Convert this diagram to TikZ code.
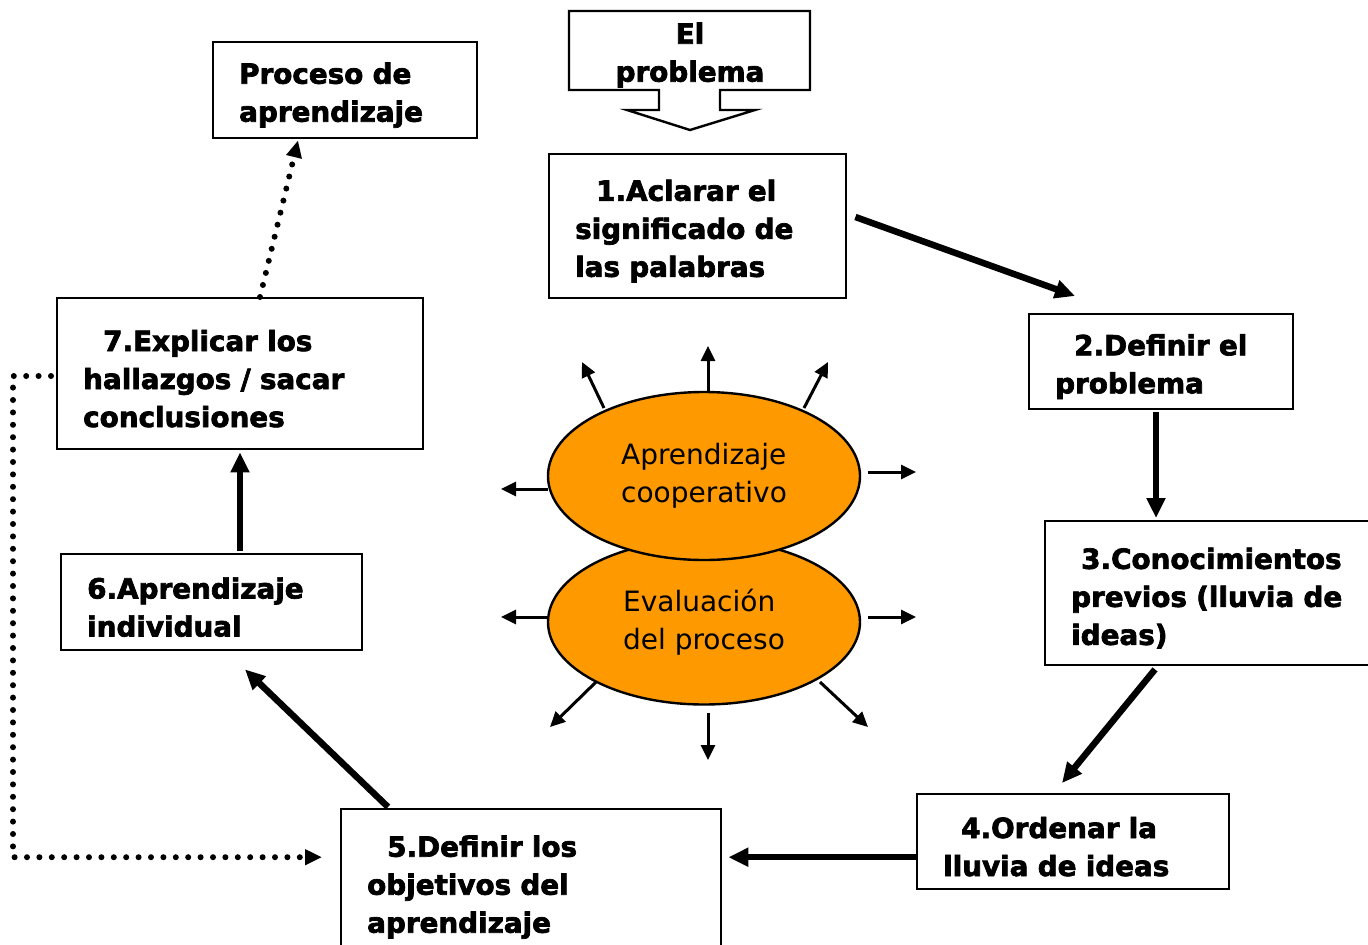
\documentclass[tikz,border=0pt]{standalone}
\usepackage{fontspec}
\setmainfont{DejaVu Sans}
\newfontfamily\heavyfont{DejaVu Sans Bold}[FakeBold=2.5]
\usetikzlibrary{arrows.meta,shapes.geometric,calc}
\definecolor{orng}{RGB}{254,153,0}
\tikzset{
  box/.style={draw=black, line width=2.4pt, rectangle, anchor=north west, align=left,
    inner xsep=26pt, inner ysep=0pt, font=\fontsize{27.8}{38}\selectfont\heavyfont,
    execute at begin node={\rule{0pt}{31pt}}},
  oval/.style={draw=black, line width=2.4pt, ellipse, fill=orng, align=left, inner sep=0pt,
    minimum width=312pt, font=\fontsize{28}{38}\selectfont},
  thickarrow/.style={line width=6.5pt, -{Triangle[length=20pt,width=18pt]}},
  thinarrow/.style={line width=3pt, -{Triangle[length=15pt,width=14pt]}},
  dotline/.style={line width=6pt, line cap=round, dash pattern=on 0pt off 12.4pt},
  dotarrow/.style={dotline, -{Triangle[length=17pt,width=15pt]}},
}
\begin{document}
\begin{tikzpicture}[x=1pt,y=-1pt]
\useasboundingbox (0,0) rectangle (1368,945);
\fill[white] (0,0) rectangle (1368,945);

% callout "El problema"
\draw[line width=2.4pt, line join=miter] (569,11) -- (810,11) -- (810,90) -- (720,90) -- (720,110) -- (755,110)
  -- (690,130) -- (627,110) -- (659,110) -- (659,90) -- (569,90) -- cycle;
\node[align=center, inner sep=0pt, font=\fontsize{27.8}{38}\selectfont\heavyfont] (prob) at (690,55) {El\\problema};

% boxes
\node[box, minimum width=264pt, minimum height=96pt, text width=212pt] (bp) at (212,41)
  {Proceso de\\aprendizaje};
\node[box, minimum width=297pt, minimum height=144pt, text width=245pt] (b1) at (548,153)
  {\hspace*{21pt}1.Aclarar el\\significado de\\las palabras};
\node[box, minimum width=264pt, minimum height=95pt, text width=212pt] (b2) at (1028,313)
  {\hspace*{19pt}2.Definir el\\problema};
\node[box, minimum width=330pt, minimum height=144pt, text width=278pt] (b3) at (1044,520)
  {\hspace*{10pt}3.Conocimientos\\previos (lluvia de\\ideas)};
\node[box, minimum width=312pt, minimum height=95pt, text width=260pt] (b4) at (916,793)
  {\hspace*{18pt}4.Ordenar la\\lluvia de ideas};
\node[box, minimum width=380pt, minimum height=146pt, text width=328pt] (b5) at (340,808)
  {\hspace*{20pt}5.Definir los\\objetivos del\\aprendizaje};
\node[box, minimum width=301pt, minimum height=96pt, text width=249pt] (b6) at (60,553)
  {6.Aprendizaje\\individual};
\node[box, minimum width=366pt, minimum height=151pt, text width=314pt] (b7) at (56,297)
  {\hspace*{20pt}7.Explicar los\\hallazgos / sacar\\conclusiones};

% ellipses
\node[oval, minimum height=165pt] (e2) at (704,622) {Evaluación\\del proceso};
\node[oval, minimum height=168pt] (e1) at (704,476) {Aprendizaje\\cooperativo};

% main cycle arrows
\draw[thickarrow] ($(b1.north east)+(8,64)$) -- ($(b2.north west)+(47,-17)$);
\draw[thickarrow] ($(b2.south west)+(128,2)$) -- ($(b3.north west)+(112,-2)$);
\draw[thickarrow] ($(b3.south west)+(111,3)$) -- ($(b4.north west)+(146,-10)$);
\draw[thickarrow] ($(b4.south west)+(0,-33.2)$) -- ($(b5.north east)+(6,49.2)$);
\draw[thickarrow] ($(b5.north west)+(48,-1)$) -- ($(b6.south west)+(185,18)$);
\draw[thickarrow] ($(b6.north west)+(180,-2)$) -- ($(b7.south west)+(184,2)$);

% dotted connectors
\draw[dotarrow] ($(b7.north west)+(204,0)$) -- ($(bp.south west)+(86,1)$);
\coordinate (d5) at ($(b5.north west)+(-18,49.2)$);
\draw[dotarrow] ($(b7.north west)+(-5,79)$) -- ($(b7.north west)+(-43,79)$) |- (d5);

% radiating arrows
\draw[thinarrow] ($(e1.center)+(-100,-68)$) -- ($(e1.center)+(-122,-114)$);
\draw[thinarrow] ($(e1.center)+(4,-84)$) -- ($(e1.center)+(4,-130)$);
\draw[thinarrow] ($(e1.center)+(100,-68)$) -- ($(e1.center)+(124,-114)$);
\draw[thinarrow] ($(e1.center)+(164,-4)$) -- ($(e1.center)+(212,-4)$);
\draw[thinarrow] ($(e1.center)+(-156,13)$) -- ($(e1.center)+(-203,13)$);
\draw[thinarrow] ($(e2.center)+(164,-5)$) -- ($(e2.center)+(212,-5)$);
\draw[thinarrow] ($(e2.center)+(-156,-5)$) -- ($(e2.center)+(-203,-5)$);
\draw[thinarrow] ($(e2.center)+(-108,60)$) -- ($(e2.center)+(-154,105)$);
\draw[thinarrow] ($(e2.center)+(4,91)$) -- ($(e2.center)+(4,138)$);
\draw[thinarrow] ($(e2.center)+(116,60)$) -- ($(e2.center)+(164,105)$);
\end{tikzpicture}
\end{document}
